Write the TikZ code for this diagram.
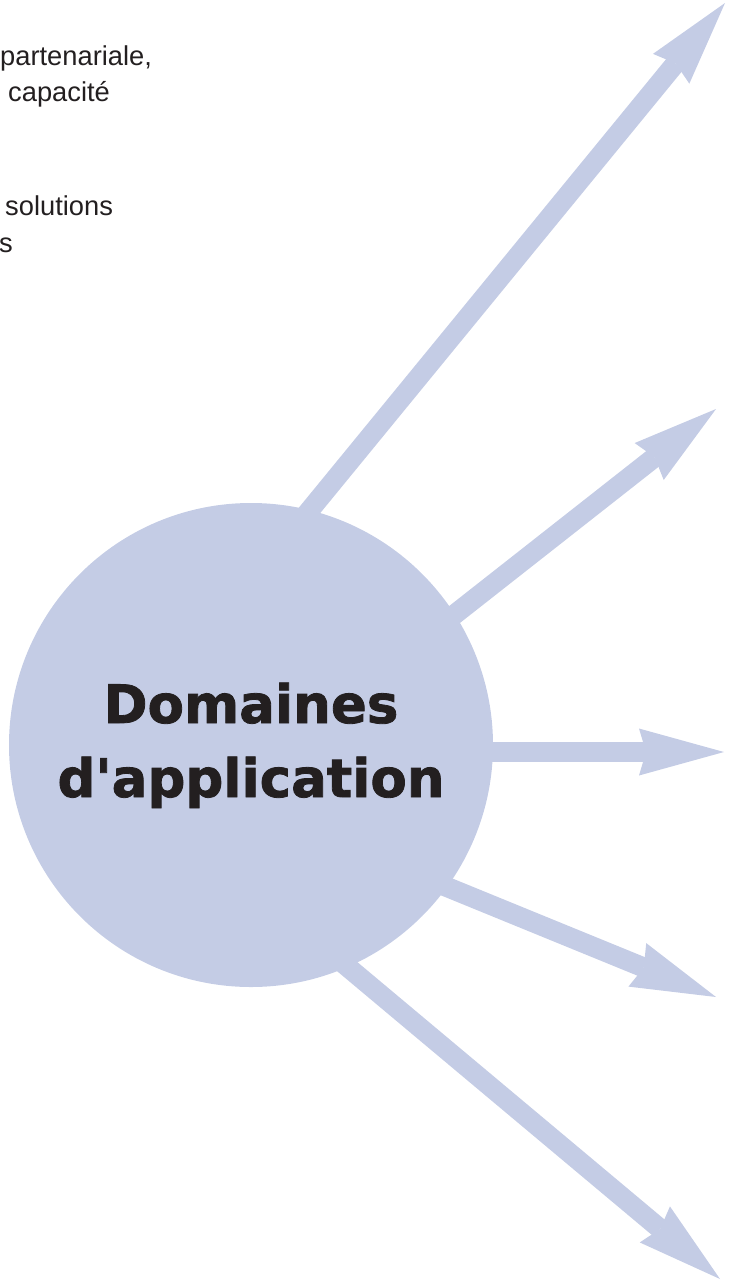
\documentclass[tikz,border=0pt]{standalone}
\usepackage{fontspec}
\setmainfont{Liberation Sans}
\newfontfamily\titlefont[FakeBold=1.5]{DejaVu Sans Bold}
\usetikzlibrary{arrows.meta}
\definecolor{peri}{RGB}{196,204,229}
\definecolor{ink}{RGB}{35,31,32}
\begin{document}
\begin{tikzpicture}[x=1pt,y=-1pt,
  bigarrow/.style={draw=peri, line width=20pt, line cap=butt,
    -{Stealth[length=85pt, width=47pt, inset=7pt, line width=0pt]}},
  bodytext/.style={anchor=base west, inner sep=0pt, text=ink,
    font=\fontsize{27.3}{36}\selectfont},
  titletext/.style={anchor=base, inner sep=0pt, text=ink,
    font=\titlefont\fontsize{53}{74}\selectfont}]
\useasboundingbox (0,0) rectangle (730,1280);
% coordinates
\coordinate (s1) at (291,533);  \coordinate (t1) at (725,3);
\coordinate (s2) at (431,633);  \coordinate (t2) at (716,409);
\coordinate (s3) at (470,752);  \coordinate (t3) at (724,752);
\coordinate (s4) at (420,876);  \coordinate (t4) at (716,997);
\coordinate (s5) at (325,948);  \coordinate (t5) at (720,1279);
\draw[bigarrow] (s1) -- (t1);
\draw[bigarrow] (s2) -- (t2);
\draw[bigarrow] (s3) -- (t3);
\draw[bigarrow] (s4) -- (t4);
\draw[bigarrow] (s5) -- (t5);
\node[circle, fill=peri, minimum size=484pt, inner sep=0pt] (c) at (251,745) {};
\node[titletext] (title1) at (251,723) {Domaines};
\node[titletext] (title2) at (251,797) {d'application};
\node[bodytext] (l1) at (0,65) {partenariale,};
\node[bodytext] (l2) at (8,101) {capacité};
\node[bodytext] (l3) at (5,215) {solutions};
\node[bodytext] (l4) at (-1,252) {s};
\end{tikzpicture}
\end{document}
